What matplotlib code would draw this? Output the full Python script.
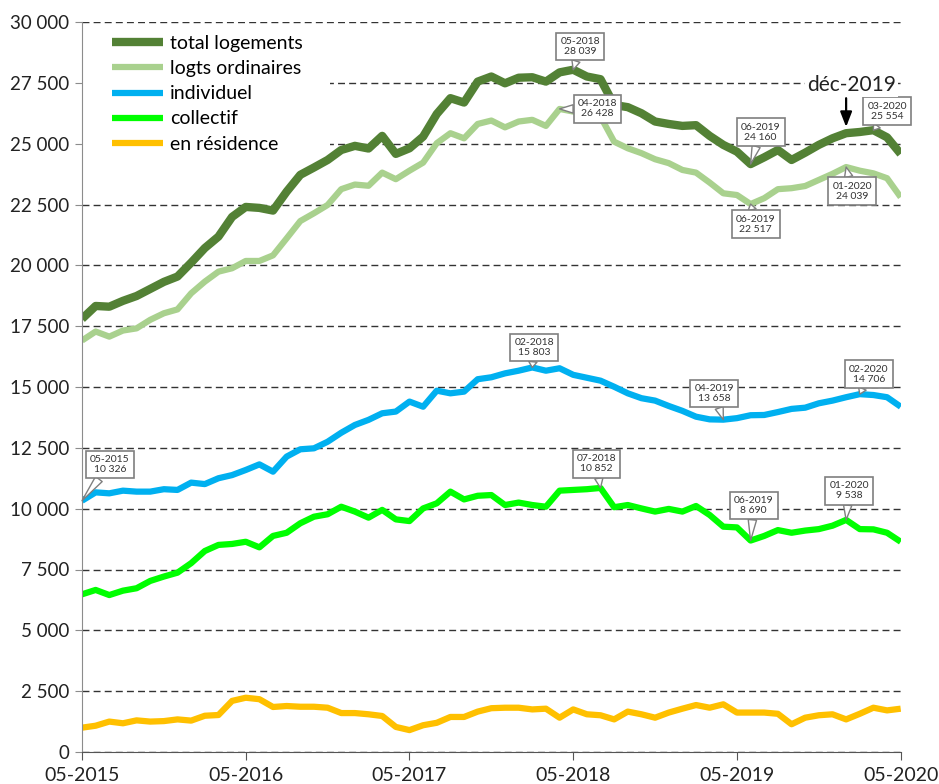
import matplotlib
matplotlib.use("Agg")
import matplotlib.pyplot as plt
from matplotlib.patches import Rectangle

plt.rcParams['font.family'] = ['Lato', 'DejaVu Sans']

# ---------------- data ----------------
xtick_labels = ["05-2015", "05-2016", "05-2017", "05-2018", "05-2019", "05-2020"]
ytick_values = [0, 2500, 5000, 7500, 10000, 12500, 15000, 17500, 20000, 22500, 25000, 27500, 30000]

total_logements = [17800, 18330, 18300, 18540, 18740, 19030, 19320, 19540, 20110, 20710,
                   21180, 21990, 22400, 22360, 22250, 23030, 23720, 24020, 24330, 24740,
                   24910, 24800, 25320, 24580, 24810, 25290, 26220, 26870, 26690, 27550,
                   27760, 27480, 27710, 27730, 27550, 27930, 28039, 27760, 27650, 26590,
                   26500, 26250, 25910, 25810, 25730, 25760, 25320, 24950, 24670, 24160,
                   24440, 24740, 24330, 24630, 24950, 25220, 25430, 25480, 25554, 25260,
                   24580]
logts_ordinaires = [16910, 17280, 17070, 17320, 17410, 17760, 18030, 18190, 18850, 19330,
                    19740, 19880, 20180, 20180, 20410, 21110, 21820, 22140, 22480, 23130,
                    23320, 23270, 23810, 23540, 23890, 24220, 25020, 25430, 25220, 25810,
                    25950, 25670, 25910, 25980, 25730, 26428, 26320, 26220, 26110, 25080,
                    24810, 24610, 24360, 24200, 23920, 23810, 23400, 22960, 22890, 22517,
                    22760, 23130, 23170, 23260, 23510, 23760, 24039, 23890, 23780, 23580,
                    22800]
individuel = [10326, 10670, 10630, 10740, 10700, 10700, 10800, 10770, 11070, 11010,
              11250, 11380, 11590, 11820, 11520, 12140, 12440, 12480, 12750, 13120,
              13440, 13650, 13920, 13990, 14400, 14190, 14850, 14740, 14810, 15320,
              15400, 15560, 15670, 15803, 15670, 15770, 15500, 15380, 15260, 15010,
              14740, 14540, 14440, 14220, 14020, 13780, 13670, 13658, 13720, 13840,
              13850, 13970, 14100, 14150, 14330, 14440, 14580, 14706, 14670, 14580,
              14190]
collectif = [6480, 6660, 6450, 6630, 6730, 7030, 7210, 7370, 7760, 8260,
             8510, 8550, 8640, 8410, 8880, 9010, 9400, 9670, 9770, 10080,
             9880, 9630, 9950, 9560, 9490, 10010, 10220, 10700, 10380, 10530,
             10560, 10150, 10250, 10150, 10080, 10740, 10770, 10800, 10852, 10060,
             10150, 10010, 9880, 9990, 9880, 10110, 9740, 9260, 9230, 8690,
             8880, 9120, 9010, 9100, 9160, 9300, 9538, 9160, 9150, 9010,
             8640]
en_residence = [1000, 1080, 1250, 1180, 1300, 1250, 1270, 1340, 1290, 1490,
                1520, 2100, 2230, 2170, 1850, 1890, 1860, 1860, 1820, 1600,
                1600, 1550, 1480, 1030, 900, 1100, 1200, 1440, 1440, 1660,
                1800, 1820, 1820, 1750, 1780, 1410, 1750, 1550, 1510, 1340,
                1660, 1550, 1410, 1620, 1780, 1930, 1820, 1960, 1620, 1620,
                1620, 1570, 1140, 1410, 1510, 1550, 1340, 1570, 1820, 1710,
                1780]
series_names = ["total logements", "logts ordinaires", "individuel", "collectif", "en résidence"]

months = list(range(len(total_logements)))


def month_label(i):
    m = (4 + i) % 12 + 1
    y = 2015 + (4 + i) // 12
    return f"{m:02d}-{y}"


def fmt(v):
    return f"{v:,}".replace(",", " ")


# ---------------- figure ----------------
W, H = 939, 784
fig = plt.figure(figsize=(W / 100, H / 100), dpi=100)
ax_l, ax_r, ax_t, ax_b = 82, 900.7, 22, 752
ax = fig.add_axes([ax_l / W, 1 - ax_b / H, (ax_r - ax_l) / W, (ax_b - ax_t) / H])

ax.set_xlim(0, 60)
ax.set_ylim(0, 30000)
ax.set_axisbelow(True)
ax.yaxis.grid(True, linestyle=(0, (5, 3)), color='#333333', lw=1.0)
ax.xaxis.grid(False)

for s in ['top', 'right']:
    ax.spines[s].set_visible(False)
ax.spines['left'].set_color('#8c8c8c')
ax.spines['bottom'].set_color('#555555')

ax.set_yticks(ytick_values)
ax.set_yticklabels([fmt(v) for v in ytick_values])
ax.set_xticks([0, 12, 24, 36, 48, 60])
ax.set_xticklabels(xtick_labels)
ax.tick_params(axis='y', length=5, color='#8c8c8c', labelsize=13.5, labelcolor='#222222', pad=4)
ax.tick_params(axis='x', length=6, color='#555555', labelsize=14, labelcolor='#222222', pad=5)

# white area behind legend hiding gridlines
ax.add_patch(Rectangle((0, 0.814), 0.303, 0.175, transform=ax.transAxes,
                       facecolor='white', edgecolor='none', zorder=0.8))

colors = ['#538135', '#a9d18e', '#00b0f0', '#00ff00', '#ffc000']
widths = [6.0, 4.5, 4.5, 4.5, 4.5]
all_series = [total_logements, logts_ordinaires, individuel, collectif, en_residence]
lines = []
for name, vals, c, w in zip(series_names, all_series, colors, widths):
    ln, = ax.plot(months, vals, color=c, lw=w, label=name, solid_joinstyle='round',
                  solid_capstyle='butt', zorder=2)
    lines.append(ln)

ax.legend(handles=lines, loc='upper left', bbox_to_anchor=(30 / (ax_r - ax_l), 1 - 13 / (ax_b - ax_t)),
          frameon=False, fontsize=14, handlelength=2.6, labelspacing=0.42,
          handletextpad=0.4, borderaxespad=0, borderpad=0)

# ---------------- callouts ----------------
callouts = [
    (total_logements, 36, 7, 23),
    (logts_ordinaires, 35, 38, 0),
    (total_logements, 49, 10, 32),
    (logts_ordinaires, 49, 5, -20),
    (logts_ordinaires, 56, 6, -24),
    (total_logements, 58, 14, 19),
    (individuel, 0, 28, 36),
    (individuel, 33, 2, 20),
    (individuel, 47, -9, 26),
    (individuel, 57, 9, 20),
    (collectif, 38, -4, 24),
    (collectif, 49, 3, 35),
    (collectif, 56, 3, 29),
]
for vals, i, dx, dy in callouts:
    ax.annotate(f"{month_label(i)}\n{fmt(vals[i])}", xy=(i, vals[i]), xycoords='data',
                xytext=(dx, dy), textcoords='offset pixels', ha='center', va='center',
                fontsize=7.5, color='#333333', linespacing=1.15, zorder=5,
                bbox=dict(boxstyle='square,pad=0.4', fc='white', ec='#7f7f7f', lw=1.2),
                arrowprops=dict(arrowstyle='wedge,tail_width=0.8,shrink_factor=0.5',
                                fc='white', ec='#7f7f7f', lw=1.0, shrinkA=0, shrinkB=0))

# déc-2019 marker
i_dec = 56
ax.annotate('', xy=(i_dec, total_logements[i_dec]), xycoords='data',
            xytext=(0, 35), textcoords='offset pixels',
            arrowprops=dict(arrowstyle='-|>,head_width=0.35,head_length=0.9', color='black',
                            lw=1.6, shrinkA=0, shrinkB=4.5), zorder=6)
ax.annotate('déc-2019', xy=(i_dec, total_logements[i_dec]), xycoords='data',
            xytext=(5, 48), textcoords='offset pixels', ha='center', va='center',
            fontsize=15, color='#222222', zorder=6,
            bbox=dict(boxstyle='square,pad=0.1', fc='white', ec='none'))

fig.savefig('out.png', dpi=100)
